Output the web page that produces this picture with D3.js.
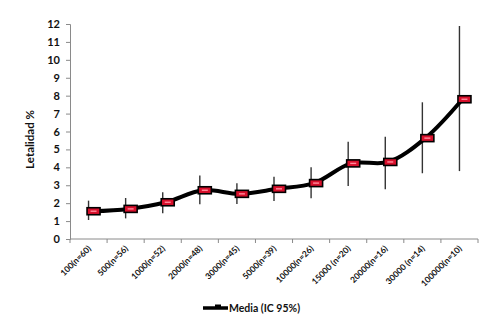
<!DOCTYPE html>
<html>
<head>
<meta charset="utf-8">
<script src="https://cdn.jsdelivr.net/npm/d3@7"></script>
<style>
	body { margin: 0; background: #fff; }
	svg { display: block; }
	text { font-family: Lato, "Open Sans", sans-serif; font-weight: bold; fill: #111; }
</style>
</head>
<body>
<svg id="chart" width="492" height="321"></svg>
<script>
// categories (population size and n) and values
var categories = ["100(n=60)", "500(n=56)", "1000(n=52)", "2000(n=48)", "3000(n=45)",
	"5000(n=39)", "10000(n=26)", "15000 (n=20)", "20000(n=16)", "30000 (n=14)", "100000(n=10)"];
var means = [1.55, 1.68, 2.05, 2.72, 2.52, 2.8, 3.12, 4.22, 4.3, 5.63, 7.8];
var lower = [1.06, 1.15, 1.44, 1.94, 1.95, 2.12, 2.27, 2.96, 2.77, 3.67, 3.79];
var upper = [2.14, 2.29, 2.61, 3.54, 3.11, 3.48, 4.0, 5.43, 5.71, 7.63, 11.89];
var yTicks = [0, 1, 2, 3, 4, 5, 6, 7, 8, 9, 10, 11, 12];
var yTitle = "Letalidad %";
var legendLabel = "Media (IC 95%)";

var svg = d3.select("#chart");
//plot box (named to avoid window.top)
var pLeft = 70, pRight = 478, pTop = 24, pBottom = 239;

var x = d3.scaleBand().domain(categories).range([pLeft, pRight]);
var y = d3.scaleLinear().domain([0, 12]).range([pBottom, pTop]);
var cx = function(i) { return x(categories[i]) + x.bandwidth() / 2; };

//Y axis
var yAxis = svg.append("g")
	.attr("transform", "translate(" + pLeft + ",0)")
	.call(d3.axisLeft(y).tickValues(yTicks).tickSize(4).tickPadding(6));
yAxis.select(".domain").attr("stroke", "#8a8a8a");
yAxis.selectAll(".tick line").attr("stroke", "#8a8a8a");
yAxis.selectAll("text").style("font-size", "11px").attr("fill", "#111");

//X axis, ticks between categories
var xAxis = svg.append("g")
	.attr("transform", "translate(0," + pBottom + ")");
xAxis.append("line")
	.attr("x1", pLeft).attr("x2", pRight)
	.attr("stroke", "#8a8a8a");
xAxis.selectAll(".xt")
	.data(d3.range(categories.length + 1))
	.enter().append("line")
	.attr("class", "xt")
	.attr("x1", function(i) { return pLeft + i * x.bandwidth(); })
	.attr("x2", function(i) { return pLeft + i * x.bandwidth(); })
	.attr("y1", 0).attr("y2", 4)
	.attr("stroke", "#8a8a8a");
xAxis.selectAll(".xl")
	.data(categories)
	.enter().append("text")
	.attr("class", "xl")
	.attr("text-anchor", "end")
	.style("font-size", "8.5px")
	.attr("transform", function(d, i) {
		return "translate(" + (cx(i) + 3) + ",10) rotate(-45)";
	})
	.text(function(d) { return d; });

//Y title
svg.append("text")
	.attr("transform", "translate(34," + ((pTop + pBottom) / 2 + 8) + ") rotate(-90)")
	.attr("text-anchor", "middle")
	.style("font-size", "11.5px")
	.text(yTitle);

//Confidence intervals
svg.selectAll(".ci")
	.data(categories)
	.enter().append("line")
	.attr("class", "ci")
	.attr("x1", function(d, i) { return cx(i); })
	.attr("x2", function(d, i) { return cx(i); })
	.attr("y1", function(d, i) { return y(lower[i]); })
	.attr("y2", function(d, i) { return y(upper[i]); })
	.attr("stroke", "#333")
	.attr("stroke-width", 1.4);

//Mean line
var line = d3.line()
	.x(function(d, i) { return cx(i) + 3; })
	.y(function(d) { return y(d); })
	.curve(d3.curveCatmullRom);
svg.append("path")
	.datum(means)
	.attr("d", line)
	.attr("fill", "none")
	.attr("stroke", "#000")
	.attr("stroke-width", 4);

//Markers
var marks = svg.selectAll(".mk")
	.data(means)
	.enter().append("g")
	.attr("class", "mk")
	.attr("transform", function(d, i) { return "translate(" + (cx(i) + 5) + "," + y(d) + ")"; });
marks.append("rect")
	.attr("x", -6.5).attr("y", -3.5)
	.attr("width", 13).attr("height", 7)
	.attr("fill", "#d8102c")
	.attr("stroke", "#000")
	.attr("stroke-width", 1.6);
marks.append("line")
	.attr("x1", -3).attr("x2", 3)
	.attr("stroke", "#ff8a9a")
	.attr("stroke-width", 1.4);

//Legend
var lg = svg.append("g").attr("transform", "translate(203,308)");
lg.append("line")
	.attr("x1", 0).attr("x2", 25)
	.attr("stroke", "#000").attr("stroke-width", 3.5);
lg.append("rect")
	.attr("x", 12).attr("y", -3.5).attr("width", 6).attr("height", 4)
	.attr("fill", "#000");
lg.append("text")
	.attr("x", 26).attr("y", 4)
	.style("font-size", "10.5px")
	.text(legendLabel);
</script>
</body>
</html>
